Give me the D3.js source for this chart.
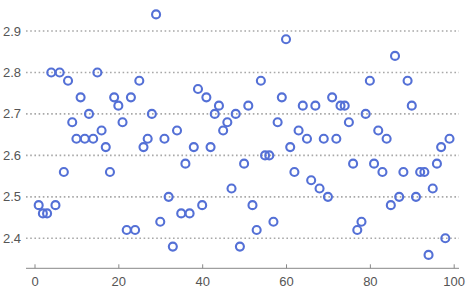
<!DOCTYPE html>
<html>
<head>
<meta charset="utf-8">
<script src="https://cdn.jsdelivr.net/npm/d3@7"></script>
<style>
  body { margin: 0; background: #fff; }
  svg text { font-family: "Liberation Sans", Arial, sans-serif; }
</style>
</head>
<body>
<div id="chart"></div>
<script>
// data: one reading per index
const xs = d3.range(1, 100);
const values = [
  2.48, 2.46, 2.46, 2.80, 2.48, 2.80, 2.56, 2.78, 2.68, 2.64,
  2.74, 2.64, 2.70, 2.64, 2.80, 2.66, 2.62, 2.56, 2.74, 2.72,
  2.68, 2.42, 2.74, 2.42, 2.78, 2.62, 2.64, 2.70, 2.94, 2.44,
  2.64, 2.50, 2.38, 2.66, 2.46, 2.58, 2.46, 2.62, 2.76, 2.48,
  2.74, 2.62, 2.70, 2.72, 2.66, 2.68, 2.52, 2.70, 2.38, 2.58,
  2.72, 2.48, 2.42, 2.78, 2.60, 2.60, 2.44, 2.68, 2.74, 2.88,
  2.62, 2.56, 2.66, 2.72, 2.64, 2.54, 2.72, 2.52, 2.64, 2.50,
  2.74, 2.64, 2.72, 2.72, 2.68, 2.58, 2.42, 2.44, 2.70, 2.78,
  2.58, 2.66, 2.56, 2.64, 2.48, 2.84, 2.50, 2.56, 2.78, 2.72,
  2.50, 2.56, 2.56, 2.36, 2.52, 2.58, 2.62, 2.40, 2.64
];
const xTicks = [0, 20, 40, 60, 80, 100];
const yTicks = [2.4, 2.5, 2.6, 2.7, 2.8, 2.9];

const width = 468, height = 291;
const plotLeft = 26, plotRight = 459, axisY = 268.3;

const x = d3.scaleLinear().domain([0, 100]).range([34.5, 453.7]);
const y = d3.scaleLinear().domain([2.4, 2.9]).range([238.3, 31]);

const svg = d3.select("#chart")
  .append("svg")
    .attr("width", width)
    .attr("height", height);

//dotted grid + y labels (no axis line on the left)
const gy = svg.append("g").attr("class", "grid");
gy.selectAll("line")
    .data(yTicks)
  .enter().append("line")
    .attr("x1", plotLeft)
    .attr("x2", plotRight)
    .attr("y1", d => y(d))
    .attr("y2", d => y(d))
    .attr("stroke", "#a8a8a8")
    .attr("stroke-width", 1.6)
    .attr("stroke-dasharray", "1.6,2.6");
gy.selectAll("text")
    .data(yTicks)
  .enter().append("text")
    .attr("x", 21)
    .attr("y", d => y(d))
    .attr("dy", "0.35em")
    .attr("text-anchor", "end")
    .attr("font-size", 13)
    .attr("fill", "#555")
    .text(d => d3.format(".1f")(d));

//bottom axis, ticks pointing up
const gx = svg.append("g")
  .attr("transform", `translate(0,${axisY})`)
  .call(d3.axisBottom(x).tickValues(xTicks).tickSize(0).tickPadding(0));
gx.select(".domain").remove();
gx.append("line")
  .attr("x1", plotLeft).attr("x2", plotRight)
  .attr("stroke", "#888").attr("stroke-width", 1);
gx.selectAll(".tick line")
  .attr("y2", -4).attr("stroke", "#888");
gx.selectAll(".tick text")
  .attr("y", 18)
  .attr("dy", 0)
  .attr("font-size", 13)
  .attr("font-family", "Liberation Sans, Arial, sans-serif")
  .attr("fill", "#555");

//points
svg.append("g")
  .selectAll("circle")
    .data(xs.map((d, i) => ({x: d, v: values[i]})))
  .enter().append("circle")
    .attr("cx", d => x(d.x))
    .attr("cy", d => y(d.v))
    .attr("r", 4)
    .attr("fill", "none")
    .attr("stroke", "#5470d6")
    .attr("stroke-width", 2.1);
</script>
</body>
</html>
